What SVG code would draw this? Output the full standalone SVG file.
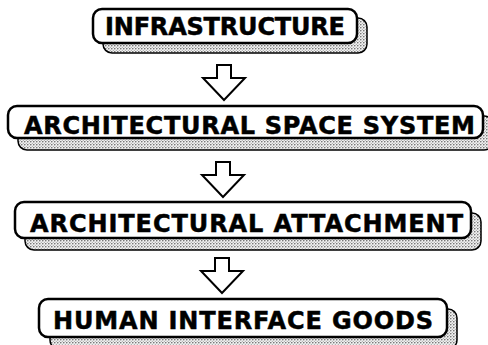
<svg xmlns="http://www.w3.org/2000/svg" width="488" height="345" viewBox="0 0 488 345">
<style>
.box{fill:#fff;stroke:#000;stroke-width:2.5}
.sh{fill:url(#dots);stroke:#000;stroke-width:1.5}
.lbl{font-family:"DejaVu Sans","Liberation Sans",Arial,sans-serif;font-weight:bold;font-size:24px;fill:#000;stroke:#000;stroke-width:0.5}
.arr{fill:#fff;stroke:#000;stroke-width:2;stroke-linejoin:miter}
</style>
<defs>
<pattern id="dots" width="3" height="3" patternUnits="userSpaceOnUse">
<rect width="3" height="3" fill="#f2f2f2"/>
<circle cx="0.8" cy="0.8" r="0.75" fill="#555"/>
<circle cx="2.3" cy="2.3" r="0.55" fill="#888"/>
</pattern>
</defs>
<rect width="488" height="345" fill="#fff"/>
<g id="node1">
<rect class="sh" x="103" y="18" width="264" height="35" rx="9"/>
<rect class="box" x="93" y="9" width="264" height="34" rx="9"/>
<text class="lbl" x="105" y="35" textLength="240" lengthAdjust="spacing">INFRASTRUCTURE</text>
</g>
<g id="node2">
<rect class="sh" x="18" y="116" width="475" height="34" rx="9"/>
<rect class="box" x="8" y="106" width="475" height="32" rx="9"/>
<text class="lbl" x="24" y="134" textLength="451" lengthAdjust="spacing">ARCHITECTURAL SPACE SYSTEM</text>
</g>
<g id="node3">
<rect class="sh" x="25" y="213" width="456" height="37" rx="9"/>
<rect class="box" x="15" y="202" width="456" height="36" rx="9"/>
<text class="lbl" x="30" y="232" textLength="433" lengthAdjust="spacing">ARCHITECTURAL ATTACHMENT</text>
</g>
<g id="node4">
<rect class="sh" x="50" y="309" width="407" height="40" rx="9"/>
<rect class="box" x="39" y="299" width="408" height="38" rx="9"/>
<text class="lbl" x="53" y="329" textLength="380" lengthAdjust="spacing">HUMAN INTERFACE GOODS</text>
</g>
<g id="connectors">
<polygon class="arr" points="217,65 231,65 231,78 245,78 224,100 203,78 217,78"/>
<polygon class="arr" points="216,162 230,162 230,175 244,175 223,197 202,175 216,175"/>
<polygon class="arr" points="215,258 229,258 229,271 243,271 222,293 201,271 215,271"/>
</g>
</svg>
